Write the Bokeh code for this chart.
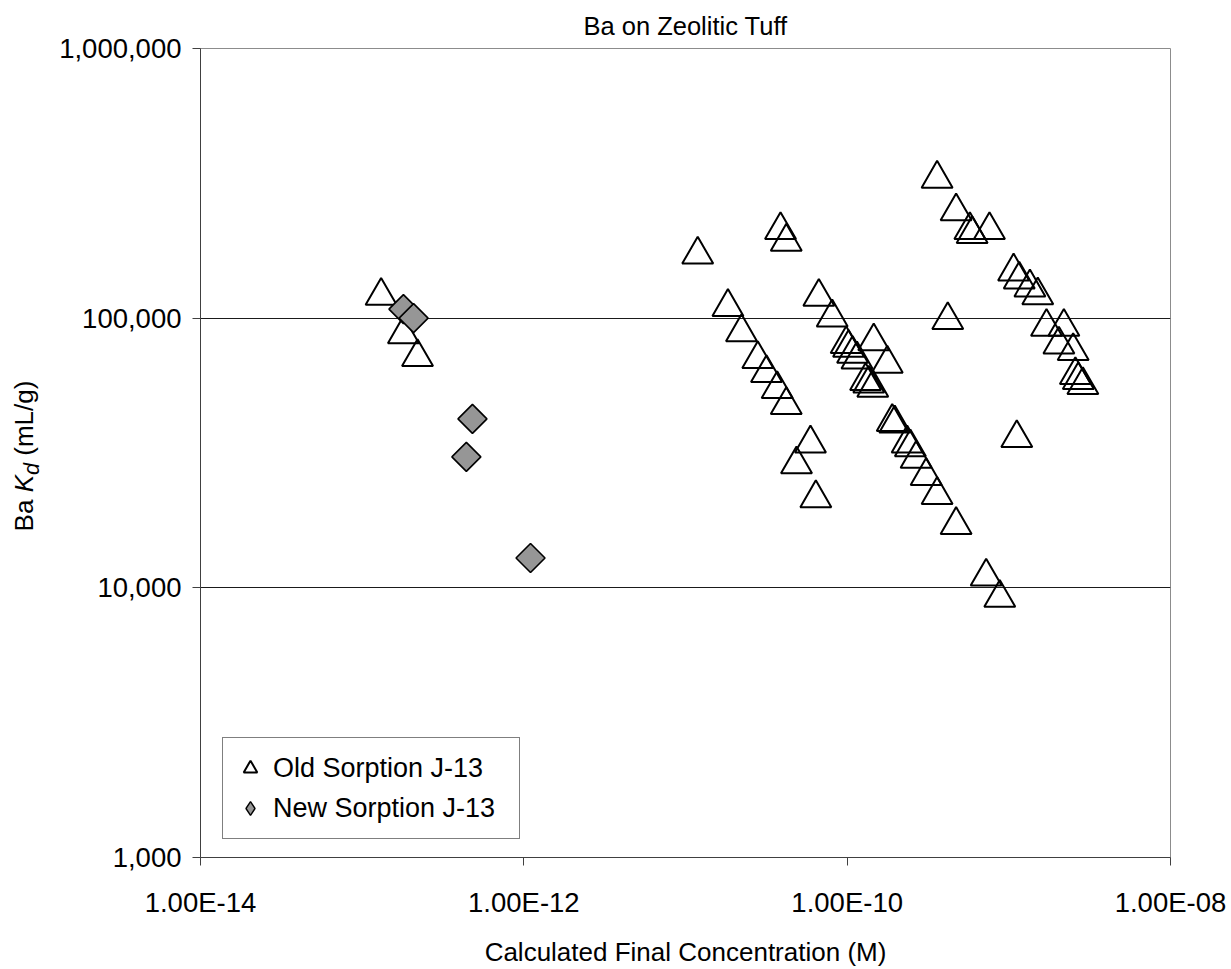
import numpy as np
from bokeh.plotting import figure
from bokeh.layouts import row
from bokeh.models import (Range1d, FixedTicker, CustomJSTickFormatter, Div,
                          Legend, LegendItem, ColumnDataSource)
from bokeh.embed import file_html
from bokeh.resources import INLINE

# ---------------- data ----------------
# Old Sorption J-13: calculated final concentration (M), Ba Kd (mL/g)
old_conc = [1.31e-13, 1.80e-13, 2.20e-13,
            1.19e-11, 3.87e-11, 4.20e-11, 1.83e-11, 2.22e-11, 2.80e-11,
            3.17e-11, 3.69e-11, 4.20e-11, 5.93e-11, 4.86e-11, 6.40e-11,
            6.68e-11, 8.08e-11, 9.86e-11, 1.02e-10, 1.08e-10, 1.15e-10,
            1.46e-10, 1.77e-10, 1.30e-10, 1.36e-10, 1.44e-10, 1.90e-10,
            1.97e-10, 2.35e-10, 2.46e-10, 2.67e-10, 3.08e-10, 3.60e-10,
            4.72e-10, 7.24e-10, 8.79e-10, 3.60e-10, 4.72e-10, 5.74e-10,
            5.93e-10, 7.59e-10, 4.19e-10, 1.12e-09, 1.07e-09, 1.16e-09,
            1.35e-09, 1.51e-09, 1.71e-09, 2.19e-09, 2.04e-09, 2.50e-09,
            2.58e-09, 2.69e-09, 2.87e-09]
old_kd = [121000, 87200, 71700,
          172000, 212000, 192000, 110000, 88700, 70500,
          62600, 54600, 47600, 34300, 28700, 21500,
          120000, 100600, 80100, 77600, 73700, 70300,
          82000, 67800, 58500, 57200, 55200, 41200,
          40700, 34300, 33200, 30100, 26000, 22100,
          17100, 11000, 9180, 329000, 249000, 212000,
          205000, 212000, 98300, 35900, 149000, 139000,
          130000, 121500, 92800, 92800, 79800, 75500,
          61500, 58900, 56500]

# New Sorption J-13
new_conc = [1.80e-13, 2.08e-13, 4.81e-13, 4.41e-13, 1.10e-12]
new_kd = [108000, 100000, 42300, 30600, 12900]

series_names = ["Old Sorption J-13", "New Sorption J-13"]

x_ticks = [1e-14, 1e-12, 1e-10, 1e-8]
x_tick_labels = ["1.00E-14", "1.00E-12", "1.00E-10", "1.00E-08"]
y_ticks = [1e3, 1e4, 1e5, 1e6]
y_tick_labels = ["1,000", "10,000", "100,000", "1,000,000"]
y_grid_ticks = [1e4, 1e5]

title_text = "Ba on Zeolitic Tuff"
x_label = "Calculated Final Concentration (M)"
y_label_html = "Ba <i>K</i><sub><i>d</i></sub> (mL/g)"

FONT = "Liberation Sans"
CANVAS_H = 969
LABEL_COL_W = 50

# ---------------- main figure ----------------
p = figure(width=1231 - LABEL_COL_W, height=CANVAS_H,
           x_axis_type="log", y_axis_type="log",
           x_range=Range1d(1e-14, 1e-8), y_range=Range1d(1e3, 1e6),
           output_backend="svg", toolbar_location=None,
           min_border_left=200 - LABEL_COL_W, min_border_right=61,
           min_border_top=47, min_border_bottom=112,
           title=title_text)

p.background_fill_color = "white"
p.border_fill_color = "white"
p.outline_line_color = "#8c8c8c"
p.outline_line_width = 1

p.title.text_font = FONT
p.title.text_font_size = "25.5px"
p.title.text_font_style = "normal"
p.title.text_color = "black"
p.title.align = "center"
p.title.standoff = 18
p.title.offset = 6

fmt_code = """
let best = 0, bd = Infinity;
for (let i = 0; i < vals.length; i++) {
  const d = Math.abs(Math.log10(tick) - Math.log10(vals[i]));
  if (d < bd) { bd = d; best = i; }
}
return labs[best];
"""

p.xaxis.ticker = FixedTicker(ticks=x_ticks)
p.xaxis.formatter = CustomJSTickFormatter(args=dict(vals=x_ticks, labs=x_tick_labels), code=fmt_code)
p.yaxis.ticker = FixedTicker(ticks=y_ticks)
p.yaxis.formatter = CustomJSTickFormatter(args=dict(vals=y_ticks, labs=y_tick_labels), code=fmt_code)

for ax in (p.xaxis[0], p.yaxis[0]):
    ax.minor_tick_line_color = None
    ax.major_tick_in = 0
    ax.major_tick_out = 8
    ax.major_tick_line_color = "#404040"
    ax.axis_line_color = "#404040"
    ax.major_label_text_font = FONT
    ax.major_label_text_font_size = "27.5px"
    ax.major_label_text_color = "black"

p.xaxis.major_label_standoff = 21
p.yaxis.major_label_standoff = 11

p.xaxis.axis_label = x_label
p.xaxis.axis_label_text_font = FONT
p.xaxis.axis_label_text_font_size = "26px"
p.xaxis.axis_label_text_font_style = "normal"
p.xaxis.axis_label_text_color = "black"
p.xaxis.axis_label_standoff = 16

p.xgrid.visible = False
p.ygrid.ticker = FixedTicker(ticks=y_grid_ticks)
p.ygrid.grid_line_color = "#1a1a1a"
p.ygrid.grid_line_width = 1

# ---------------- glyphs ----------------
src_old = ColumnDataSource(dict(x=old_conc, y=old_kd))
src_new = ColumnDataSource(dict(x=new_conc, y=new_kd))

r_old = p.scatter("x", "y", source=src_old, marker="triangle", size=31,
                  fill_color=None, line_color="black", line_width=2)
# diamond-shaped legend key (hidden beneath the rotated squares below)
r_new_key = p.scatter("x", "y", source=src_new, marker="diamond", size=18,
                      fill_color="#969696", line_color="black", line_width=1.4)
r_new = p.scatter("x", "y", source=src_new, marker="square", size=20.5,
                  angle=np.pi / 4, fill_color="#969696", line_color="black",
                  line_width=1.6)

legend = Legend(items=[LegendItem(label=series_names[0], renderers=[r_old]),
                       LegendItem(label=series_names[1], renderers=[r_new_key])],
                location=(22, 18), margin=0, padding=10, spacing=0,
                glyph_width=34, glyph_height=40, label_height=40,
                label_standoff=6, label_width=236,
                label_text_font=FONT, label_text_font_size="27px",
                label_text_color="black",
                border_line_color="black", border_line_width=1,
                background_fill_color="white", background_fill_alpha=1)
p.add_layout(legend)

# ---------------- y axis title column: Ba K_d (mL/g) ----------------
ylab = Div(
    text=('<div style="position:absolute; left:27px; top:456px; '
          'transform: translate(-50%, -50%) rotate(-90deg); '
          "white-space:nowrap; font-family:'Liberation Sans', Arial, sans-serif; "
          'font-size:26px; line-height:1; color:black;">'
          + y_label_html + '</div>'),
    width=LABEL_COL_W, height=CANVAS_H, margin=0,
    styles={"position": "relative", "overflow": "visible"})

layout = row(ylab, p, spacing=0)
open("out.html", "w").write(file_html(layout, INLINE))
